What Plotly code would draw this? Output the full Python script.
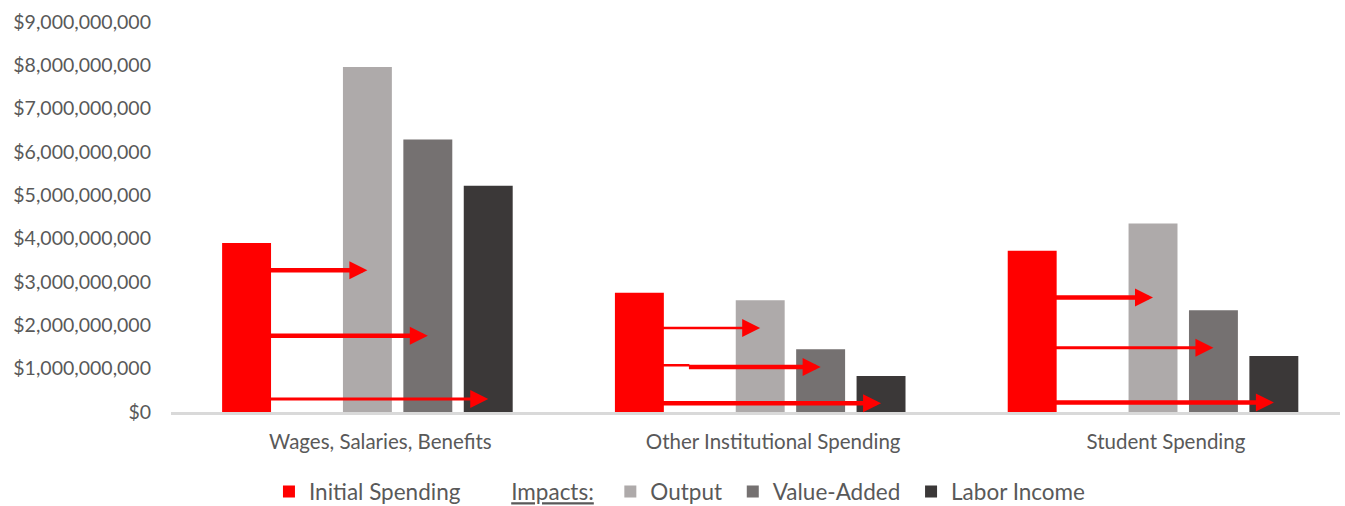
import plotly.graph_objects as go

# ---------------- data ----------------
categories = ["Wages, Salaries, Benefits", "Other Institutional Spending", "Student Spending"]
initial_spending = [3.90e9, 2.75e9, 3.72e9]
output_impact = [7.96e9, 2.58e9, 4.35e9]
value_added = [6.29e9, 1.45e9, 2.35e9]
labor_income = [5.22e9, 0.83e9, 1.29e9]

# heights of the red arrows (initial spending -> output, value-added, labor income)
arrow_to_output = [3.27e9, 1.94e9, 2.64e9]
arrow_to_value_added = [1.76e9, 1.04e9, 1.48e9]
arrow_to_labor_income = [0.30e9, 0.20e9, 0.22e9]

y_ticks = [i * 1e9 for i in range(10)]

# ---------------- style ----------------
FONT = "Lato, 'Open Sans', sans-serif"
TXT = "#595959"
RED = "#FF0000"
C_OUT = "#AEAAAA"
C_VA = "#757171"
C_LI = "#3B3838"
BARGAP = 0.231
GROUPGAP = 0.19
NSLOTS = 5
arrow_widths = [[4.5, 4.5, 3.2], [2.4, 4.5, 4.5], [4.5, 3.0, 4.5]]
HEAD_PX = 3.6
NB = "\u00a0"
# trailing spacing used to pace the legend entries like the original
legend_pad = [1, 2, 1, 1, 0]

xs = list(range(len(categories)))

fig = go.Figure()
series = [
    ("Initial Spending", initial_spending, RED),
    ("<u>Impacts:</u>", [0, 0, 0], "rgba(0,0,0,0)"),
    ("Output", output_impact, C_OUT),
    ("Value-Added", value_added, C_VA),
    ("Labor Income", labor_income, C_LI),
]
for (name, vals, col), pad in zip(series, legend_pad):
    fig.add_trace(go.Bar(
        x=xs, y=vals, name=name + NB * pad,
        marker=dict(color=col, line=dict(width=0)),
        hoverinfo="skip" if name.startswith("<u>") else None,
    ))


def slot_center(cat, i):
    w = 1 - BARGAP
    slot = w / NSLOTS
    return cat - w / 2 + (i + 0.5) * slot


annotations = []
shapes = []
targets = [arrow_to_output, arrow_to_value_added, arrow_to_labor_income]
for c in xs:
    tail_x = slot_center(c, 0)
    for k, tgt in enumerate(targets):
        wdt = arrow_widths[c][k]
        tip_x = slot_center(c, 2 + k)
        start_x = tail_x
        if c == 1 and k == 1:
            # small thin kink segment seen in the original
            w = 1 - BARGAP
            slot = w / NSLOTS
            edge = tail_x + slot * (1 - GROUPGAP) / 2
            kink = edge + 0.06
            shapes.append(dict(type="line", xref="x", yref="y",
                               x0=tail_x, x1=kink + 0.005,
                               y0=tgt[c] + 0.04e9, y1=tgt[c] + 0.04e9,
                               line=dict(color=RED, width=2.4)))
            start_x = kink
        annotations.append(dict(
            x=tip_x, y=tgt[c], ax=start_x, ay=tgt[c],
            xref="x", yref="y", axref="x", ayref="y",
            text="", showarrow=True, arrowhead=2,
            arrowwidth=wdt, arrowsize=HEAD_PX / wdt,
            arrowcolor=RED, standoff=0, startstandoff=0,
        ))

fig.update_layout(
    width=1345, height=506,
    margin=dict(l=171, r=5, t=22, b=94, autoexpand=False),
    paper_bgcolor="white", plot_bgcolor="white",
    barmode="group", bargap=BARGAP, bargroupgap=GROUPGAP,
    font=dict(family=FONT, color=TXT, size=19),
    showlegend=True,
    legend=dict(orientation="h", x=0.0838, xanchor="left",
                yref="container", y=0.028, yanchor="middle",
                font=dict(size=22.5, color=TXT, family=FONT), itemwidth=30,
                traceorder="normal"),
    annotations=annotations,
    shapes=shapes,
)
fig.update_xaxes(
    range=[-0.5, 2.476],
    tickvals=[x + 0.033 for x in xs], ticktext=categories,
    showgrid=False, zeroline=False, ticks="",
    showline=True, linecolor="#D9D9D9", linewidth=3,
    tickfont=dict(size=20.5, color=TXT, family=FONT),
    ticklabelstandoff=9,
    automargin=False,
)
fig.update_yaxes(
    range=[0, 9e9], tickvals=y_ticks, tickformat="$,.0f",
    showgrid=False, zeroline=False, showline=False, ticks="",
    tickfont=dict(size=19.5, color=TXT, family=FONT),
    ticklabelstandoff=19,
    automargin=False,
)

fig.write_html("out.html")
